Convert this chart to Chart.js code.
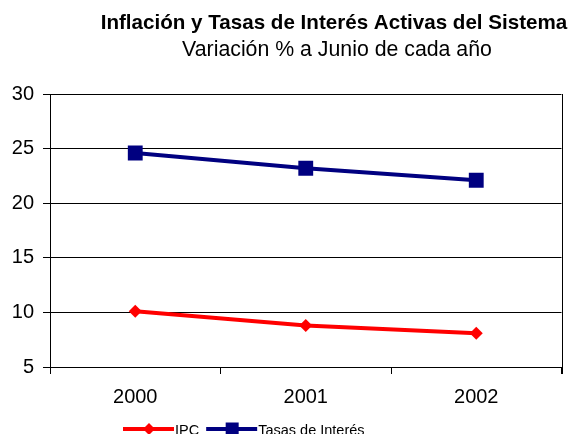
<!DOCTYPE html>
<html>
<head>
<meta charset="utf-8">
<script src="https://cdn.jsdelivr.net/npm/chart.js@4"></script>
<style>
html,body{margin:0;padding:0;background:#fff;}
#wrap{width:572px;height:434px;position:relative;}
</style>
</head>
<body>
<div id="wrap"><canvas id="c" width="572" height="434"></canvas></div>
<script>
const titleText = "Inflación y Tasas de Interés Activas del Sistema";
const subtitleText = "Variación % a Junio de cada año";
const categories = ["2000", "2001", "2002"];
const ipcValues = [10.1, 8.8, 8.1];
const tasasValues = [24.6, 23.2, 22.1];
const seriesNames = ["IPC", "Tasas de Interés"];
const yTicks = [5, 10, 15, 20, 25, 30];

const FONT = "'Liberation Sans', Arial, sans-serif";

const decor = {
  id: 'decor',
  afterDraw(chart) {
    const ctx = chart.ctx;
    const a = chart.chartArea;
    ctx.save();
    // right border of plot area
    ctx.strokeStyle = '#000';
    ctx.lineWidth = 1;
    ctx.beginPath();
    ctx.moveTo(Math.round(a.right) + 0.5, a.top);
    ctx.lineTo(Math.round(a.right) + 0.5, a.bottom + 7);
    ctx.stroke();
    // titles
    ctx.fillStyle = '#000';
    ctx.textAlign = 'center';
    ctx.textBaseline = 'alphabetic';
    ctx.font = "bold 20.6px " + FONT;
    ctx.fillText(titleText, 334, 29);
    ctx.font = "21.3px " + FONT;
    ctx.fillText(subtitleText, 337, 56);
    // legend
    ctx.font = "14.5px " + FONT;
    ctx.textAlign = 'left';
    ctx.textBaseline = 'middle';
    const ly = 429;
    let x = 123;
    chart.data.datasets.forEach((ds, i) => {
      ctx.strokeStyle = ds.borderColor;
      ctx.lineWidth = 4;
      ctx.beginPath();
      ctx.moveTo(x, ly);
      ctx.lineTo(x + 51, ly);
      ctx.stroke();
      ctx.fillStyle = ds.pointBackgroundColor;
      ctx.beginPath();
      if (ds.pointStyle === 'rect') {
        ctx.rect(x + 26 - 6.5, ly - 6.5, 13, 13);
      } else {
        ctx.moveTo(x + 26, ly - 6);
        ctx.lineTo(x + 32, ly);
        ctx.lineTo(x + 26, ly + 6);
        ctx.lineTo(x + 20, ly);
        ctx.closePath();
      }
      ctx.fill();
      ctx.fillStyle = '#000';
      ctx.fillText(ds.label, x + 52, ly + 1.5);
      x += 52 + ctx.measureText(ds.label).width + 7;
    });
    ctx.restore();
  }
};

new Chart(document.getElementById('c'), {
  type: 'line',
  data: {
    labels: categories,
    datasets: [
      {
        label: seriesNames[0],
        data: ipcValues,
        borderColor: '#FF0000',
        backgroundColor: '#FF0000',
        pointBackgroundColor: '#FF0000',
        pointBorderColor: '#FF0000',
        pointStyle: 'rectRot',
        pointRadius: 6.5,
        pointBorderWidth: 0,
        borderWidth: 4,
        tension: 0
      },
      {
        label: seriesNames[1],
        data: tasasValues,
        borderColor: '#000080',
        backgroundColor: '#000080',
        pointBackgroundColor: '#000080',
        pointBorderColor: '#000080',
        pointStyle: 'rect',
        pointRadius: 10.5,
        pointBorderWidth: 0,
        borderWidth: 4,
        tension: 0
      }
    ]
  },
  options: {
    responsive: false,
    animation: false,
    devicePixelRatio: 1,
    layout: { padding: { left: 0, right: 9, top: 94, bottom: 0 } },
    plugins: {
      legend: { display: false },
      title: { display: false },
      tooltip: { enabled: false }
    },
    scales: {
      x: {
        offset: true,
        grid: { offset: true, drawOnChartArea: false, drawTicks: true, tickLength: 7, color: '#000' },
        border: { color: '#000', width: 1 },
        ticks: { color: '#000', font: { family: FONT, size: 20 }, padding: 11 },
        afterFit(s) { s.height = 67; }
      },
      y: {
        min: 5, max: 30,
        afterBuildTicks(s) { s.ticks = yTicks.map(v => ({ value: v })); },
        grid: { color: '#000', tickLength: 7, drawTicks: true },
        border: { color: '#000', width: 1 },
        ticks: { color: '#000', font: { family: FONT, size: 20 }, padding: 9 },
        afterFit(s) { s.width = 50; }
      }
    }
  },
  plugins: [decor]
});
</script>
</body>
</html>
